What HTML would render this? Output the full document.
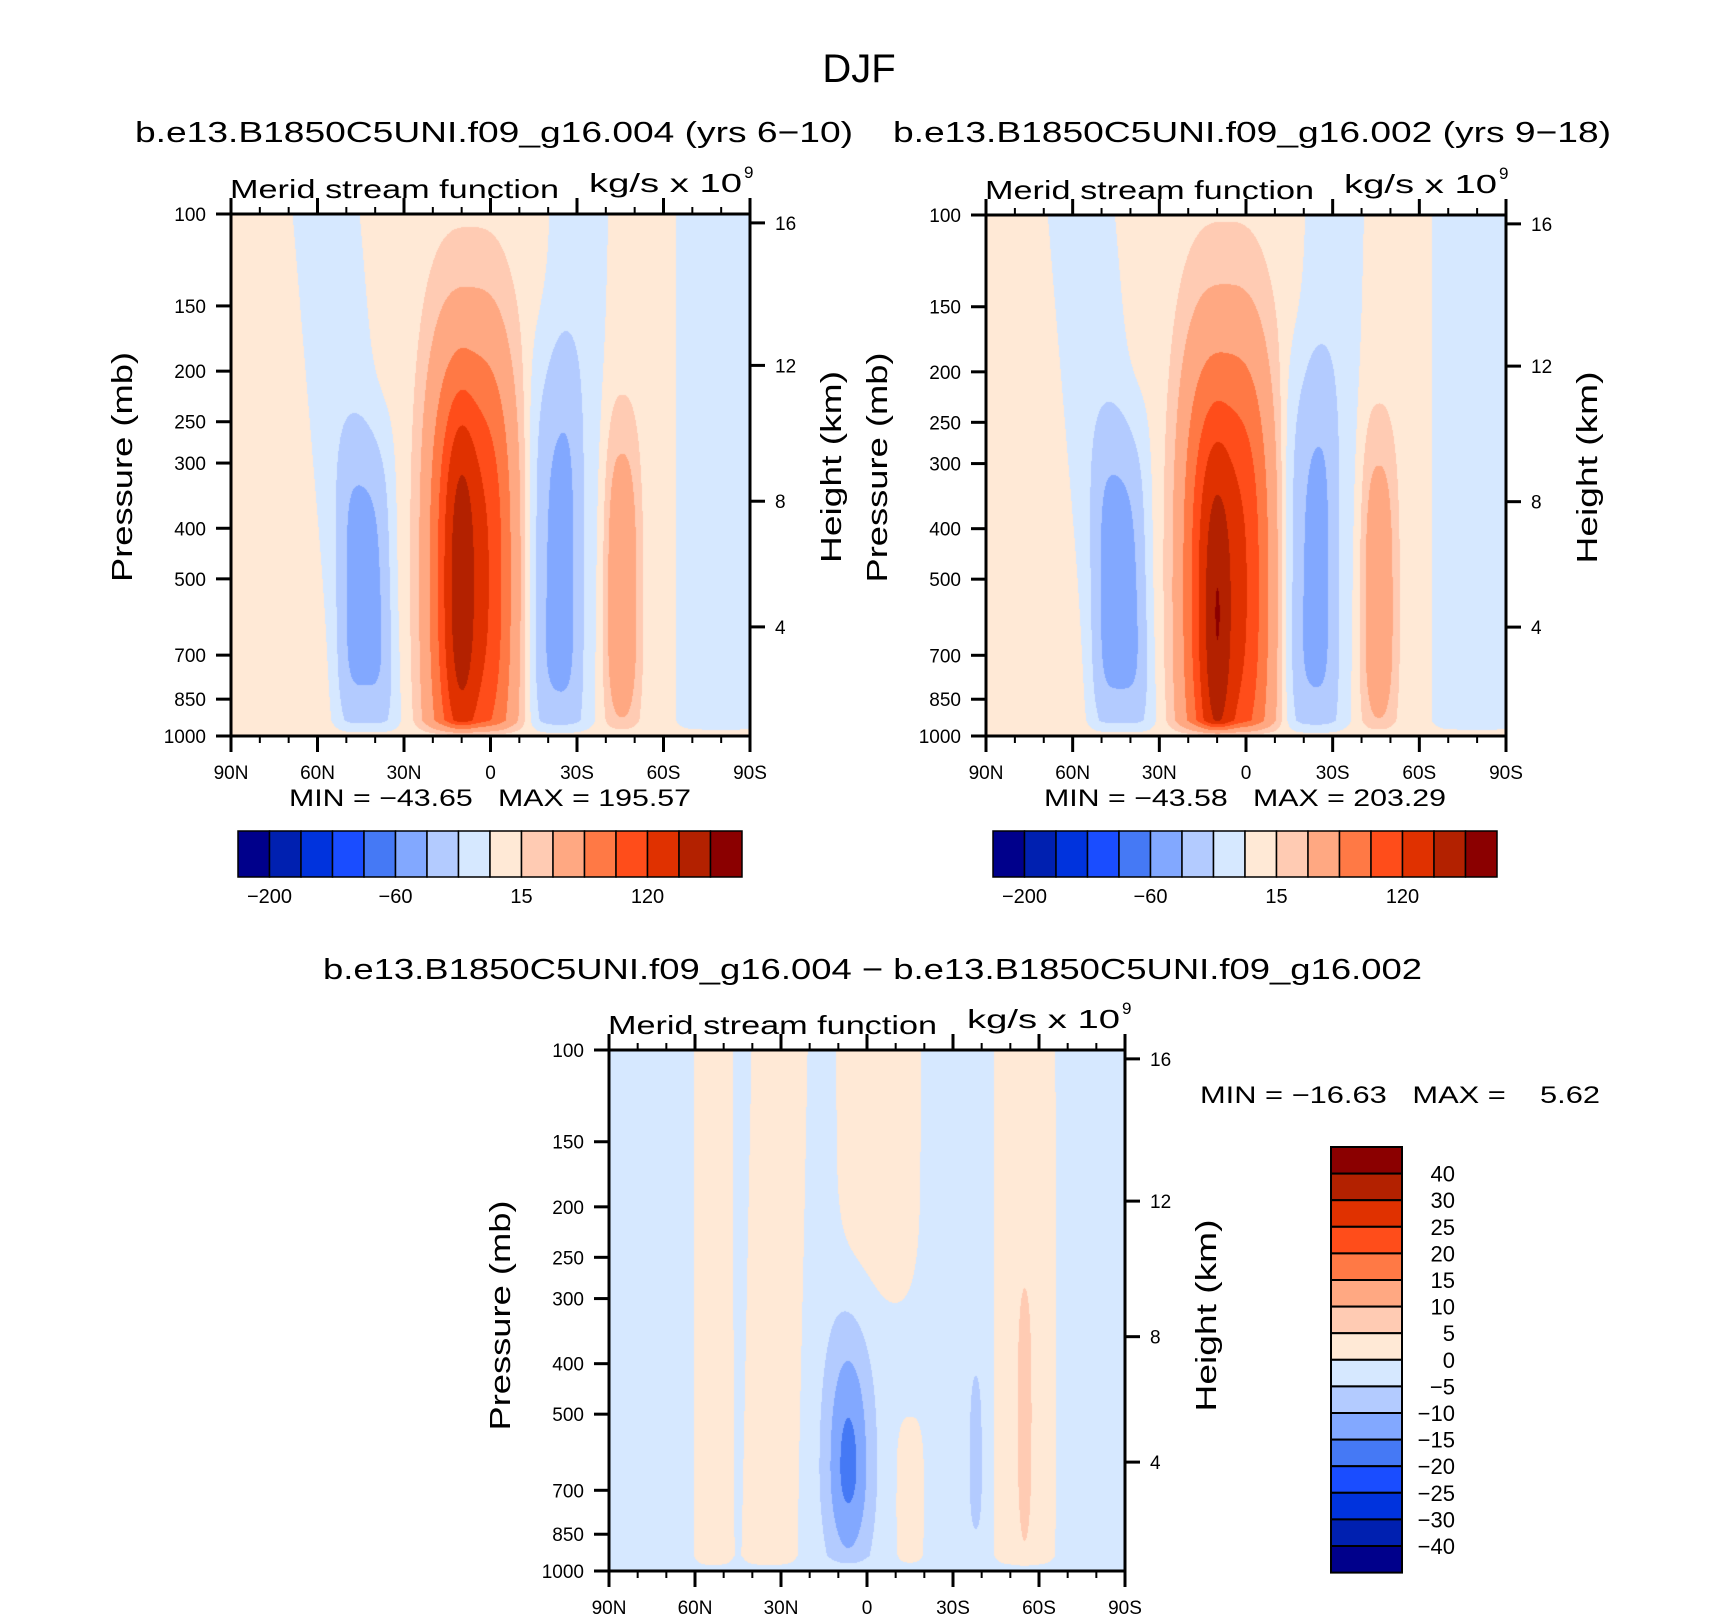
<!DOCTYPE html>
<html><head><meta charset="utf-8"><style>
html,body{margin:0;padding:0;background:#fff;}
#wrap{position:relative;width:1710px;height:1620px;overflow:hidden;background:#fff;}
canvas{position:absolute;}
svg{position:absolute;left:0;top:0;}
text{font-family:"Liberation Sans",sans-serif;fill:#000;}
</style></head><body>
<div id="wrap">
<canvas id="c1"></canvas>
<canvas id="c2"></canvas>
<canvas id="c3"></canvas>
<svg id="s" width="1710" height="1620">
<text x="859" y="82" font-size="40" text-anchor="middle">DJF</text>
<text x="135" y="142" font-size="29" textLength="718" lengthAdjust="spacingAndGlyphs">b.e13.B1850C5UNI.f09_g16.004 (yrs 6−10)</text>
<text x="893" y="142" font-size="29" textLength="718" lengthAdjust="spacingAndGlyphs">b.e13.B1850C5UNI.f09_g16.002 (yrs 9−18)</text>
<text x="323" y="979" font-size="29" textLength="1099" lengthAdjust="spacingAndGlyphs">b.e13.B1850C5UNI.f09_g16.004 − b.e13.B1850C5UNI.f09_g16.002</text>
<text x="289" y="806" font-size="24" textLength="402" lengthAdjust="spacingAndGlyphs" xml:space="preserve">MIN = −43.65   MAX = 195.57</text>
<text x="1044" y="806" font-size="24" textLength="402" lengthAdjust="spacingAndGlyphs" xml:space="preserve">MIN = −43.58   MAX = 203.29</text>
<text x="1200" y="1103" font-size="24" textLength="400" lengthAdjust="spacingAndGlyphs" xml:space="preserve">MIN = −16.63   MAX =    5.62</text>
</svg>
</div>
<script>
// ---- data ----
const latTicks = [90, 60, 30, 0, -30, -60, -90];
const latLabels = ['90N', '60N', '30N', '0', '30S', '60S', '90S'];
const presTicks = [100, 150, 200, 250, 300, 400, 500, 700, 850, 1000];
const hgtTicks = [16, 12, 8, 4];
const hgtPres = [104, 195, 355, 618];
const colors = ['#00008b','#0020b0','#0033dd','#1a4dff','#4579f5','#82a8ff','#b3cbff','#d6e8ff','#ffe9d6','#ffcbb3','#ffa882','#ff7945','#ff4d1a','#e03100','#b32100','#8b0000'];
const levelsTop = [-200,-150,-110,-80,-60,-40,-20,0,15,30,60,90,120,160,200];
const levelsDiff = [-40,-30,-25,-20,-15,-10,-5,0,5,10,15,20,25,30,40];
const topBarLabels = ['−200','−60','15','120'];
const topBarLabelIdx = [1,5,9,13];
const diffBarLabels = ['40','30','25','20','15','10','5','0','−5','−10','−15','−20','−25','−30','−40'];
// components: [lat, fy, amp, wLat, pLat, wUp, wDown, pFy, tilt]
const bg1 = 7;
const comp1 = [
 [7, 0.70, 120, 15, 3, 0.46, 0.45, 2.6, 0],
 [10, 0.72, 68, 5, 2, 0.32, 0.30, 2.6, 0],
 [49.5, 0.5, -17, 12, 4, 9, 9, 2, -15],
 [43.5, 0.74, -36, 9.8, 4, 0.34, 0.25, 4, 0],
 [-28.5, 0.5, -17, 10.5, 4, 9, 9, 2, 4.3],
 [-22.6, 0.72, -36, 9.3, 4, 0.47, 0.3, 4, 0],
 [-45.6, 0.75, 43, 6, 2.5, 0.34, 0.25, 3, 0],
 [-80, 0.5, -17, 16, 6, 9, 9, 2, 0]
];
const bg2 = 7;
const comp2 = [
 [7, 0.72, 124, 15.5, 3, 0.48, 0.45, 2.6, 0],
 [10, 0.8, 72, 5, 2, 0.32, 0.30, 2.6, 0],
 [49.5, 0.5, -17, 12, 4, 9, 9, 2, -15],
 [43.5, 0.74, -37, 10, 4, 0.36, 0.25, 4, 0],
 [-28.5, 0.5, -17, 10.5, 4, 9, 9, 2, 4.3],
 [-22.6, 0.72, -35, 9.3, 4, 0.45, 0.3, 4, 0],
 [-46, 0.76, 40, 6, 2.5, 0.34, 0.25, 3, 0],
 [-80, 0.5, -17, 16, 6, 9, 9, 2, 0]
];
const bg3 = -2;
const comp3 = [
 [53.5, 0.5, 5, 7, 4, 9, 9, 2, 0],
 [32.25, 0.5, 5, 10, 4, 9, 9, 2, 3.5],
 [-4, 0.1, 5, 15, 4, 9, 0.4, 4, 0],
 [-15, 0.85, 5, 5, 3, 0.15, 0.2, 3, 0],
 [-55, 0.5, 5, 11, 4, 9, 9, 2, 0],
 [-55, 0.7, 5, 2.5, 2, 0.25, 0.25, 3, 0],
 [6.5, 0.8, -14.7, 8, 2, 0.27, 0.2, 2, 0],
 [-38, 0.8, -5, 3, 2, 0.22, 0.15, 3, 0]
];

const panels = [
 {id:'c1', L:231, T:214, W:519, H:522, bg:bg1, comp:comp1, lev:levelsTop},
 {id:'c2', L:986, T:215, W:520, H:521, bg:bg2, comp:comp2, lev:levelsTop},
 {id:'c3', L:609, T:1050, W:516, H:521, bg:bg3, comp:comp3, lev:levelsDiff}
];
const svg = document.getElementById('s');
const NS = 'http://www.w3.org/2000/svg';
function mk(tag, attrs, parent){const e=document.createElementNS(NS,tag);for(const k in attrs)e.setAttribute(k,attrs[k]);(parent||svg).appendChild(e);return e;}
function hexToRgb(h){return [parseInt(h.substr(1,2),16),parseInt(h.substr(3,2),16),parseInt(h.substr(5,2),16)];}
const rgb = colors.map(hexToRgb);

function field(p, lat, fy){
 let sum=0;
 for(const c of p.comp){
  const lc=c[0]+c[8]*(fy-0.5);
  const dl=Math.abs((lat-lc)/c[3]);
  const dy=fy-c[1];
  const wy=dy<0?c[5]:c[6];
  sum+=c[2]*Math.exp(-Math.pow(dl,c[4])-Math.pow(Math.abs(dy/wy),c[7]));
 }
 const s=Math.max(0,Math.min(1,(1-fy)/0.03));
 return p.bg+s*sum;
}

panels.forEach((p,pi)=>{
 const cv=document.getElementById(p.id);
 cv.width=p.W; cv.height=p.H;
 cv.style.left=p.L+'px'; cv.style.top=p.T+'px';
 const ctx=cv.getContext('2d');
 const img=ctx.createImageData(p.W,p.H);
 for(let j=0;j<p.H;j++){
  const fy=(j+0.5)/p.H;
  for(let i=0;i<p.W;i++){
   const lat=90-180*(i+0.5)/p.W;
   const v=field(p,lat,fy);
   let k=0; while(k<p.lev.length && v>p.lev[k]) k++;
   const c=rgb[k]; const o=(j*p.W+i)*4;
   img.data[o]=c[0];img.data[o+1]=c[1];img.data[o+2]=c[2];img.data[o+3]=255;
  }
 }
 ctx.putImageData(img,0,0);

 const X=lat=>p.L+(90-lat)/180*p.W;
 const Y=pr=>p.T+p.H*Math.log10(pr/100);
 const g=mk('g',{});
 
 
 const fr=mk('rect',{x:p.L,y:p.T,width:p.W,height:p.H,fill:'none',stroke:'#000','stroke-width':3},g);
 
 
 for(let lat=90;lat>=-90;lat-=10){
  const major=(lat%30===0); const x=X(lat); const len=major?16:7;
  const t1=mk('line',{x1:x,y1:p.T+p.H,x2:x,y2:p.T+p.H+len,stroke:'#000','stroke-width':major?3:2},g);
  
  
  const t2=mk('line',{x1:x,y1:p.T,x2:x,y2:p.T-len,stroke:'#000','stroke-width':major?3:2},g);
  
  
 }
 latTicks.forEach((lat,i)=>{
  const t=mk('text',{x:X(lat),y:p.T+p.H+43,'font-size':19,'text-anchor':'middle'},g);
  t.textContent=latLabels[i];
  
  
 });
 presTicks.forEach(pr=>{
  const y=Y(pr);
  const l=mk('line',{x1:p.L-15,y1:y,x2:p.L,y2:y,stroke:'#000','stroke-width':3},g);
  
  
  const t=mk('text',{x:p.L-25,y:y+7,'font-size':19,'text-anchor':'end'},g);
  t.textContent=pr;
  
  
 });
 hgtTicks.forEach((h,i)=>{
  const y=Y(hgtPres[i]);
  const l=mk('line',{x1:p.L+p.W,y1:y,x2:p.L+p.W+15,y2:y,stroke:'#000','stroke-width':3},g);
  
  
  const t=mk('text',{x:p.L+p.W+25,y:y+7,'font-size':19},g);
  t.textContent=h;
  
  
 });
 const cy=p.T+p.H*0.5-(pi<2?8:0)+(pi===2?5:0);
 const ya=mk('text',{x:0,y:0,'font-size':29,'text-anchor':'middle',transform:`translate(${p.L-99},${cy}) rotate(-90)`,textLength:230,lengthAdjust:'spacingAndGlyphs'},g);
 ya.textContent='Pressure  (mb)';
 
 
 const ha=mk('text',{x:0,y:0,'font-size':29,'text-anchor':'middle',transform:`translate(${p.L+p.W+91},${cy}) rotate(-90)`,textLength:192,lengthAdjust:'spacingAndGlyphs'},g);
 ha.textContent='Height  (km)';
 
 
 const mt=mk('text',{x:p.L-1,y:p.T-16,'font-size':26,textLength:329,lengthAdjust:'spacingAndGlyphs'},g);
 mt.textContent='Merid  stream  function';
 
 
 const ut=mk('text',{x:p.L+358,y:p.T-22,'font-size':26,textLength:153,lengthAdjust:'spacingAndGlyphs'},g);
 ut.textContent='kg/s  x  10';
 
 
 const sup=mk('text',{x:p.L+513,y:p.T-36,'font-size':17},g);
 sup.textContent='9';
 
 
});

// horizontal colorbars
[[238,831],[993,831]].forEach((pos,bi)=>{
 const g=mk('g',{});
 
 
 const bw=31.5,bh=46;
 colors.forEach((c,i)=>{
  const r=mk('rect',{x:pos[0]+i*bw,y:pos[1],width:bw,height:bh,fill:c,stroke:'#000','stroke-width':1.5},g);
  
  
 });
 topBarLabels.forEach((s,i)=>{
  const t=mk('text',{x:pos[0]+topBarLabelIdx[i]*bw,y:pos[1]+72,'font-size':20,'text-anchor':'middle'},g);
  t.textContent=s;
  
  
 });
});
// vertical colorbar
(function(){
 const g=mk('g',{});
 
 
 const x0=1331,y0=1147,bw=71,bh=26.6;
 for(let i=0;i<16;i++){
  const r=mk('rect',{x:x0,y:y0+i*bh,width:bw,height:bh,fill:colors[15-i],stroke:'#000','stroke-width':2},g);
  
  
 }
 diffBarLabels.forEach((s,i)=>{
  const t=mk('text',{x:1455,y:y0+(i+1)*bh+8,'font-size':22,'text-anchor':'end'},g);
  t.textContent=s;
  
  
 });
})();
</script>
</body></html>
